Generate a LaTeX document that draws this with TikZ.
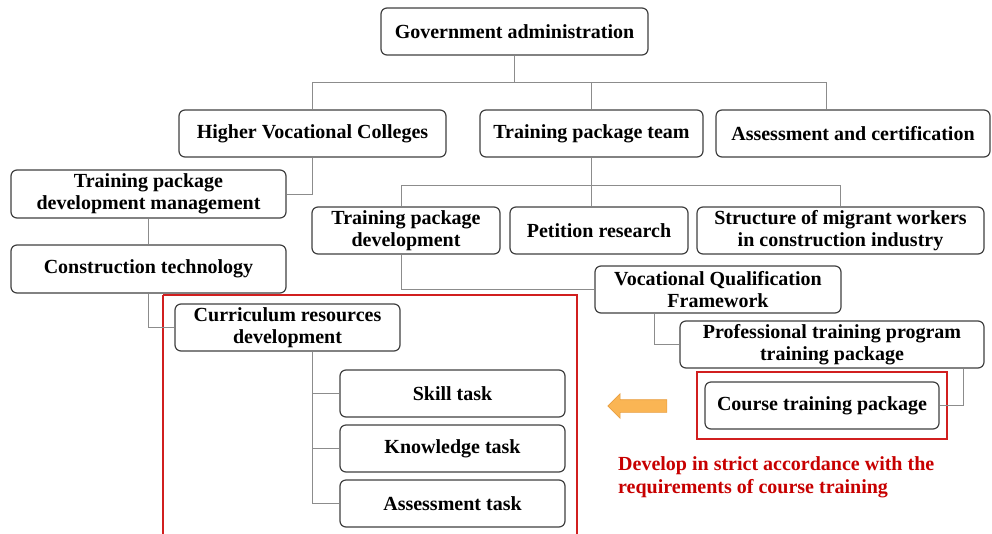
\documentclass[tikz,border=0pt]{standalone}
\usepackage{fontspec}
\setmainfont{Liberation Serif}
\usetikzlibrary{shapes.arrows,fit}

\begin{document}
\begin{tikzpicture}[x=1pt,y=-1pt,
  box/.style={draw=col_box,line width=1.2pt,rounded corners=6pt,fill=white,
    align=center,inner sep=0pt,font=\fontsize{20}{22}\selectfont\bfseries},
  wh/.style 2 args={minimum width=#1pt,minimum height=#2pt},
  edge/.style={draw=col_edge,line width=0.9pt},
  frame/.style={draw=col_frame,line width=1.4pt}]
%
\definecolor{col_box}{rgb}{0.25,0.25,0.25}
\definecolor{col_edge}{rgb}{0.55,0.55,0.55}
\definecolor{col_frame}{rgb}{0.82,0.12,0.12}
\definecolor{col_note}{rgb}{0.78,0.0,0.0}
\definecolor{col_arrow}{rgb}{0.98,0.71,0.33}
\definecolor{col_arrow_bd}{rgb}{0.91,0.62,0.25}
%
\useasboundingbox (0,0) rectangle (992,533);
%
% red frames
\draw[frame] (163,295) -- (163,540);
\draw[frame] (163,295) -- (577,295) -- (577,540);
%
\node[box,wh={267}{47}] (gov) at (514.5,31.5) {Government administration};
\node[box,wh={267}{47}] (hvc) at (312.5,133.5) {Higher Vocational Colleges};
\node[box,wh={223}{47}] (tpt) at (591.5,133.5) {Training package team};
\node[box,wh={274}{47}] (ac) at (853,133.5) {Assessment and certification};
%
\node[box,wh={275}{48}] (tpdm) at (148.5,194) {Training package\\development management};
\node[box,wh={275}{48}] (ct) at (148.5,269) {Construction technology};
\node[box,wh={225}{47}] (crd) at (287.5,327.5) {Curriculum resources\\development};
\node[box,wh={225}{47}] (skill) at (452.5,393.5) {Skill task};
\node[box,wh={225}{47}] (know) at (452.5,448.5) {Knowledge task};
\node[box,wh={225}{47}] (asst) at (452.5,503.5) {Assessment task};
%
\node[box,wh={188}{47}] (tpd) at (406,230.5) {Training package\\development};
\node[box,wh={178}{47}] (pr) at (599,230.5) {Petition research};
\node[box,wh={287}{47}] (smw) at (840.5,230.5) {Structure of migrant workers\\in construction industry};
\node[box,wh={246}{47}] (vqf) at (718,289.5) {Vocational Qualification\\Framework};
\node[box,wh={304}{47}] (ptp) at (832,344.5) {Professional training program\\training package};
\node[box,wh={234}{47}] (ctp) at (822,405.5) {Course training package};
\node[frame,fit=(ctp),inner xsep=7.5pt,inner ysep=9.5pt] (ctpframe) {};
%
\node[single arrow,shape border rotate=180,fill=col_arrow,draw=col_arrow_bd,line width=0.6pt,
  minimum height=59pt,single arrow head extend=6pt,
  single arrow head indent=0pt,inner sep=6pt] (arr) at (640.5,406) {};
\node[anchor=north west,align=left,inner sep=0pt,text=col_note,
  font=\fontsize{20}{23}\selectfont\bfseries] (note) at (618,456)
  {Develop in strict accordance with the\\requirements of course training};
%
%
\coordinate (govbus) at (514.5,82);
\coordinate (tptbus) at (591.5,185);
\draw[edge] (gov.south) -- (govbus);
\draw[edge] (hvc.north) |- (govbus);
\draw[edge] (tpt.north) |- (govbus);
\draw[edge] ([xshift=-27pt]ac.north) |- (govbus);
%
\draw[edge] (tpt.south) -- (tpt.south |- pr.north);
\draw[edge] ([xshift=-5pt]tpd.north) |- (tptbus);
\draw[edge] (smw.north) |- (tptbus);
%
\draw[edge] (hvc.south) |- (tpdm.east);
\draw[edge] (tpdm.south) -- (ct.north);
\draw[edge] (ct.south) |- (crd.west);
\draw[edge] ([xshift=25pt]crd.south) |- (skill.west);
\draw[edge] ([xshift=25pt]crd.south) |- (know.west);
\draw[edge] ([xshift=25pt]crd.south) |- (asst.west);
%
\draw[edge] ([xshift=-5pt]tpd.south) |- (vqf.west);
\draw[edge] ([xshift=-64pt]vqf.south) |- (ptp.west);
\draw[edge] ([xshift=-21pt]ptp.south east) |- (ctp.east);
%
\end{tikzpicture}
\end{document}
